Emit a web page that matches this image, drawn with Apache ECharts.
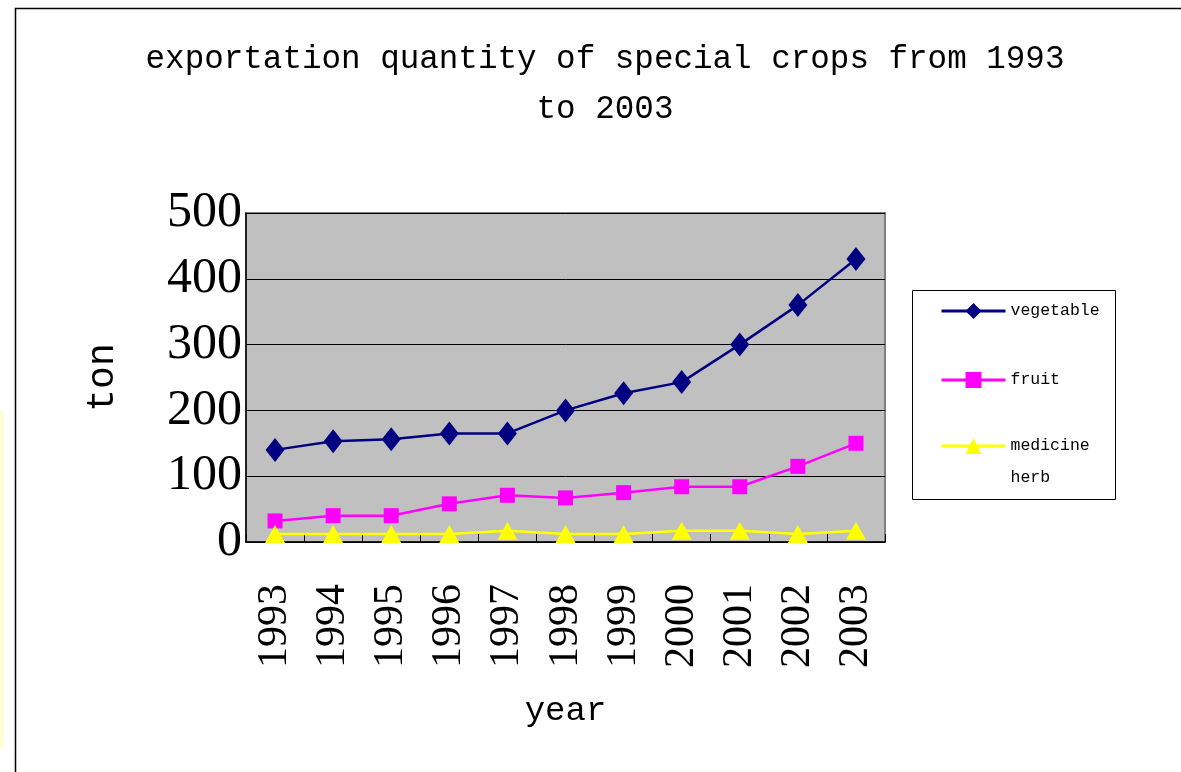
<!DOCTYPE html>
<html>
<head>
<meta charset="utf-8">
<script src="https://cdn.jsdelivr.net/npm/echarts@6/dist/echarts.min.js"></script>
<style>
  html, body { margin: 0; padding: 0; background: #fff; }
  #chart { width: 1181px; height: 772px; }
</style>
</head>
<body>
<div id="chart"></div>
<script>
const years = ["1993", "1994", "1995", "1996", "1997", "1998", "1999", "2000", "2001", "2002", "2003"];
const vegetable = [140, 153, 156, 165, 165, 200, 226, 243, 300, 360, 430];
const fruit = [32, 40, 40, 58, 71, 67, 75, 84, 84, 115, 150];
const medicineHerb = [12, 12, 12, 12, 17, 12, 12, 17, 17, 12, 17];
const yTicks = [0, 100, 200, 300, 400, 500];

const monoFont = "'Liberation Mono', monospace";
const serifFont = "'Liberation Serif', serif";

const chart = echarts.init(document.getElementById("chart"));

const option = {
  animation: false,
  backgroundColor: "#fff",
  title: {
    text: "exportation quantity of special crops from 1993\nto 2003",
    left: 600,
    top: 29,
    textAlign: "center",
    textStyle: {
      fontFamily: monoFont,
      fontSize: 32.6,
      fontWeight: "normal",
      color: "#000",
      lineHeight: 50,
    },
  },
  graphic: [
    {
      type: "rect",
      silent: true,
      z: -10,
      shape: { x: 15.5, y: 8.5, width: 1200, height: 800 },
      style: { fill: "#fff", stroke: "#000", lineWidth: 1.5 },
    },
    {
      type: "rect",
      silent: true,
      z: -10,
      shape: { x: 0, y: 410, width: 3, height: 338 },
      style: { fill: "#ffffcc" },
    },
    {
      type: "rect",
      silent: true,
      z: -5,
      shape: { x: 912.5, y: 290.5, width: 203, height: 209 },
      style: { fill: "#fff", stroke: "#000", lineWidth: 1 },
    },
  ],
  legend: [
    {
      data: ["vegetable", "fruit"],
      orient: "vertical",
      left: 940,
      top: 301,
      padding: 0,
      itemWidth: 64,
      itemHeight: 20,
      itemGap: 49,
      lineStyle: { width: 3 },
      textStyle: { fontFamily: monoFont, fontSize: 16.5, color: "#000", lineHeight: 20 },
    },
    {
      data: ["medicine herb"],
      orient: "vertical",
      left: 940,
      top: 398,
      padding: 0,
      itemWidth: 64,
      itemHeight: 20,
      lineStyle: { width: 3 },
      formatter: () => "\nmedicine\nherb",
      textStyle: {
        fontFamily: monoFont,
        fontSize: 16.5,
        color: "#000",
        lineHeight: 32,
      },
    },
  ],
  grid: {
    left: 246,
    top: 213,
    width: 639,
    height: 329,
    show: true,
    backgroundColor: "#c0c0c0",
    borderColor: "#808080",
    borderWidth: 2,
  },
  xAxis: {
    type: "category",
    data: years,
    boundaryGap: true,
    name: "year",
    nameLocation: "middle",
    nameGap: 152,
    nameTextStyle: { fontFamily: monoFont, fontSize: 34, color: "#000" },
    axisLine: { show: true, lineStyle: { color: "#000", width: 1.5 } },
    axisTick: { show: true, inside: true, length: 8, lineStyle: { color: "#000" } },
    axisLabel: {
      rotate: 90,
      margin: 42,
      fontFamily: serifFont,
      fontSize: 42,
      color: "#000",
    },
    splitLine: { show: false },
  },
  yAxis: {
    type: "value",
    min: yTicks[0],
    max: yTicks[yTicks.length - 1],
    interval: 100,
    name: "ton",
    nameLocation: "middle",
    nameGap: 124,
    nameTextStyle: { fontFamily: monoFont, fontSize: 38, color: "#000" },
    axisLine: { show: true, lineStyle: { color: "#000", width: 1.5 } },
    axisTick: { show: true, inside: true, length: 10, lineStyle: { color: "#000" } },
    axisLabel: {
      margin: 4,
      padding: [10, 0, 0, 0],
      fontFamily: serifFont,
      fontSize: 50,
      color: "#000",
    },
    splitLine: { show: true, lineStyle: { color: "#000", width: 1 } },
  },
  series: [
    {
      name: "vegetable",
      type: "line",
      data: vegetable,
      symbol: "diamond",
      symbolSize: [19, 24],
      lineStyle: { color: "#000080", width: 2.5 },
      itemStyle: { color: "#000080" },
    },
    {
      name: "fruit",
      type: "line",
      data: fruit,
      symbol: "rect",
      symbolSize: [15, 15],
      lineStyle: { color: "#ff00ff", width: 2.5 },
      itemStyle: { color: "#ff00ff", borderRadius: 2 },
    },
    {
      name: "medicine herb",
      type: "line",
      data: medicineHerb,
      symbol: "triangle",
      symbolSize: [20, 18],
      lineStyle: { color: "#ffff00", width: 2.5 },
      itemStyle: { color: "#ffff00" },
    },
  ],
};

chart.setOption(option);
</script>
</body>
</html>
